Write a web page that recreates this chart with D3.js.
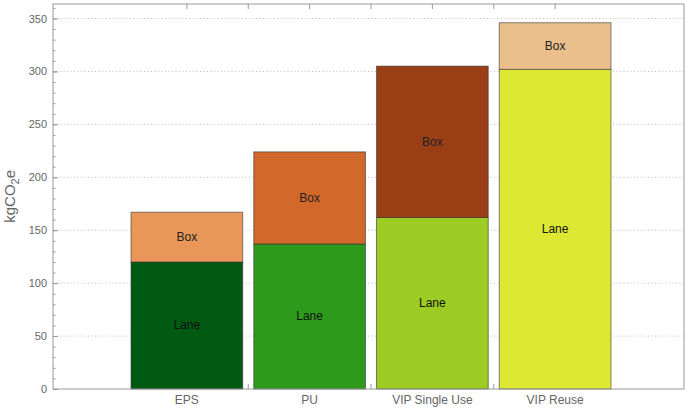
<!doctype html>
<html>
<head>
<meta charset="utf-8">
<style>
  body { margin: 0; background: #fff; font-family: 'Liberation Sans', Arial, sans-serif; }
</style>
</head>
<body>
<div id="chart"></div>
<script src="https://cdnjs.cloudflare.com/ajax/libs/d3/7.8.5/d3.min.js"></script>
<script>
var categories = ["EPS", "PU", "VIP Single Use", "VIP Reuse"];
var laneValues = [120, 137, 162, 302];
var boxValues = [47, 87, 143, 44];
var laneColors = ["#005a12", "#2e9a1c", "#9dcc24", "#dde833"];
var boxColors = ["#e99758", "#d2682a", "#9a3e16", "#ebbf8b"];
var yTicks = [0, 50, 100, 150, 200, 250, 300, 350];

var width = 692, height = 409;
var margin = { top: 4, right: 8, bottom: 20, left: 53 };

var svg = d3.select("#chart").append("svg").attr("width", width).attr("height", height);

var yScale = d3.scaleLinear([0, 363.7], [height - margin.bottom, margin.top]);
var xScale = d3.scaleBand(categories, [125.5, 616.5]).paddingInner(0.09).paddingOuter(0.045);

// grid
svg.append("g").selectAll("line").data(yTicks.slice(1)).join("line")
  .attr("x1", margin.left).attr("x2", width - margin.right)
  .attr("y1", d => yScale(d)).attr("y2", d => yScale(d))
  .attr("stroke", "#bbb").attr("stroke-dasharray", "1,2.5");

var yAxis = d3.axisLeft(yScale).tickValues(yTicks).tickSize(-5).tickPadding(6);
var yMinor = d3.axisLeft(yScale).tickValues(d3.range(0, 361, 10)).tickSize(-2.5).tickFormat("");

svg.append("g").attr("transform", `translate(${margin.left},0)`).call(yMinor)
  .call(g => g.select(".domain").remove())
  .selectAll("line").attr("stroke", "#999");
var ya = svg.append("g").attr("transform", `translate(${margin.left},0)`).call(yAxis);
ya.select(".domain").remove();
ya.selectAll("line").attr("stroke", "#999");
ya.selectAll("text").attr("fill", "#666").style("font-size", "11px");

// x ticks at centers and dividers
var xTickPos = [];
categories.forEach((c, i) => {
  xTickPos.push(xScale(c) + xScale.bandwidth() / 2);
  if (i < categories.length - 1) xTickPos.push(xScale(c) + xScale.step() - xScale.step() * 0.045);
});
[height - margin.bottom, margin.top].forEach((y, k) => {
  svg.append("g").selectAll("line").data(xTickPos).join("line")
    .attr("x1", d => d).attr("x2", d => d)
    .attr("y1", y).attr("y2", k === 0 ? y - 5 : y + 5)
    .attr("stroke", "#999");
});

// bars
var rows = categories.map((c, i) => ({ c: c, i: i, lane: laneValues[i], box: boxValues[i] }));
var bars = svg.append("g").selectAll("g").data(rows).join("g");
bars.append("rect")
  .attr("x", d => xScale(d.c)).attr("width", xScale.bandwidth())
  .attr("y", d => yScale(d.lane)).attr("height", d => yScale(0) - yScale(d.lane))
  .attr("fill", d => laneColors[d.i]).attr("stroke", "#333").attr("stroke-opacity", 0.6);
bars.append("rect")
  .attr("x", d => xScale(d.c)).attr("width", xScale.bandwidth())
  .attr("y", d => yScale(d.lane + d.box)).attr("height", d => yScale(d.lane) - yScale(d.lane + d.box))
  .attr("fill", d => boxColors[d.i]).attr("stroke", "#333").attr("stroke-opacity", 0.6);
bars.append("text")
  .attr("x", d => xScale(d.c) + xScale.bandwidth() / 2)
  .attr("y", d => yScale(d.lane / 2) + 4)
  .attr("text-anchor", "middle").style("font-size", "12px").attr("fill", "#111").text("Lane");
bars.append("text")
  .attr("x", d => xScale(d.c) + xScale.bandwidth() / 2)
  .attr("y", d => yScale(d.lane + d.box / 2) + 4)
  .attr("text-anchor", "middle").style("font-size", "12px").attr("fill", "#222").text("Box");

// category labels
svg.append("g").selectAll("text").data(categories).join("text")
  .attr("x", d => xScale(d) + xScale.bandwidth() / 2)
  .attr("y", height - margin.bottom + 15)
  .attr("text-anchor", "middle").style("font-size", "12px").attr("fill", "#666").text(d => d);

// frame
svg.append("rect").attr("x", margin.left).attr("y", margin.top)
  .attr("width", width - margin.left - margin.right).attr("height", height - margin.top - margin.bottom)
  .attr("fill", "none").attr("stroke", "#999");

// y label
var yl = svg.append("text").attr("transform", `translate(15,${yScale(182)}) rotate(-90)`)
  .attr("text-anchor", "middle").attr("fill", "#666").style("font-size", "15px");
yl.append("tspan").text("kgCO");
yl.append("tspan").attr("dy", 4).style("font-size", "11px").text("2");
yl.append("tspan").attr("dy", -4).text("e");
</script>
</body>
</html>
